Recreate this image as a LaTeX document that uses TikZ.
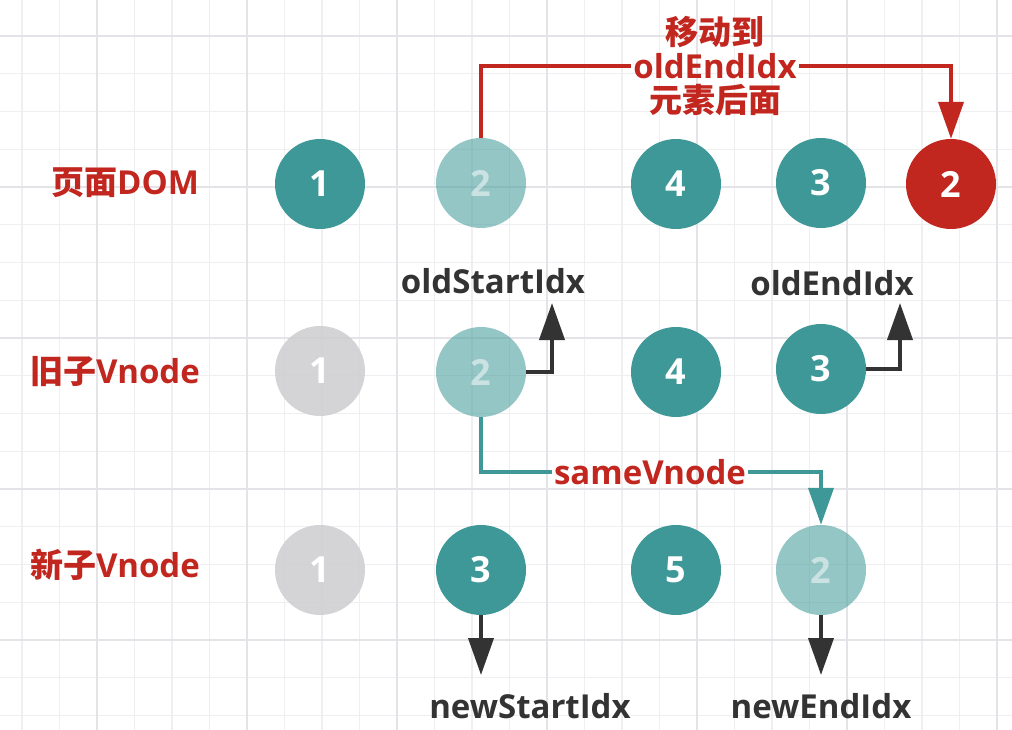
\documentclass[tikz,border=0pt]{standalone}
\usepackage{fontspec}
\setmainfont{Open Sans}
\newfontfamily\cjk{Noto Sans CJK SC}[Scale=1.0]
\usetikzlibrary{arrows.meta}
\definecolor{vteal}{HTML}{3F9898}
\definecolor{vred}{HTML}{C1261F}
\definecolor{vgray}{HTML}{CDCCCF}
\definecolor{vink}{HTML}{333333}
\definecolor{gridc}{HTML}{EFEFF2}
\definecolor{gridd}{HTML}{E4E4E8}
\tikzset{
  ball/.style={circle, minimum size=90pt, inner sep=0pt, text=white,
    font=\fontsize{36}{36}\selectfont\bfseries},
  live/.style={ball, fill=vteal},
  seen/.style={ball, fill=vteal, fill opacity=0.55, text opacity=0.5},
  gone/.style={ball, fill=vgray, fill opacity=0.85, text opacity=1},
  moved/.style={ball, fill=vred},
  rowtag/.style={text=vred, inner sep=2pt, font=\fontsize{33}{40}\selectfont\bfseries},
  idx/.style={text=vink, inner sep=2pt, font=\fontsize{33}{40}\selectfont\bfseries},
  wire/.style={line width=4pt},
  ptr/.style={draw=vink, line width=4pt, -{Triangle[width=25pt,length=37pt]}},
}
\begin{document}
\begin{tikzpicture}[x=1pt, y=-1pt]
  \useasboundingbox (0,0) rectangle (1012,730);
  \fill[white] (0,0) rectangle (1012,730);
  % grid
  \foreach \i in {0,...,26} \draw[gridc, line width=1.2pt] ({22+37.5*\i},0) -- ++(0,730);
  \foreach \j in {0,...,18} \draw[gridc, line width=1.2pt] (0,{36+37.75*\j}) -- ++(1012,0);
  \foreach \x in {97,247,...,997} \draw[gridd, line width=1.4pt] (\x,0) -- ++(0,730);
  \foreach \y in {36,187,...,640} \draw[gridd, line width=1.4pt] (0,\y) -- ++(1012,0);

  % row labels
  \node[rowtag] (domTag) at (125,183) {{\cjk 页面}DOM};
  \node[rowtag] (oldTag) at (115,372) {{\cjk 旧子}Vnode};
  \node[rowtag] (newTag) at (115,565) {{\cjk 新子}Vnode};

  % page DOM
  \node[live] (dom1) at (320,184) {1};
  \node[seen] (dom2) at (481,183) {2};
  \node[live] (dom4) at (676,184) {4};
  \node[live] (dom3) at (821,183) {3};
  \node[moved] (domR) at (951,184) {2};

  % old vnodes
  \node[gone] (old1) at (320,371) {1};
  \node[seen] (old2) at (481,372) {2};
  \node[live] (old4) at (676,372) {4};
  \node[live] (old3) at (821,369) {3};

  % new vnodes
  \node[gone] (new1) at (320,570) {1};
  \node[live] (new3) at (481,570) {3};
  \node[live] (new5) at (676,570) {5};
  \node[seen] (new2) at (821,570) {2};

  % move
  \node[rowtag, label={[rowtag, label distance=1pt]above:{\cjk 移动到}},
    label={[rowtag, label distance=1pt]below:{\cjk 元素后面}}] (moveLbl) at (715,66) {oldEndIdx};
  \draw[wire, vred] (dom2.north) |- (moveLbl.west);
  \draw[ptr, draw=vred] (moveLbl.east) -| (domR.north);

  % sameVnode
  \node[rowtag] (sameLbl) at (650,472) {sameVnode};
  \draw[wire, vteal] (old2.south) |- (sameLbl.west);
  \draw[ptr, draw=vteal] (sameLbl.east) -| (new2.north);

  % pointers
  \node[idx] (oldStartLbl) at (493,281) {oldStartIdx};
  \node[idx] (oldEndLbl) at (832,283) {oldEndIdx};
  \node[idx] (newStartLbl) at (530,706) {newStartIdx};
  \node[idx] (newEndLbl) at (821,706) {newEndIdx};
  \coordinate (oldStartTip) at (552,303);
  \coordinate (oldEndTip) at (900,303);
  \coordinate (newStartTip) at (481,675);
  \coordinate (newEndTip) at (821,675);
  \draw[ptr] (old2.east) -| (oldStartTip);
  \draw[ptr] (old3.east) -| (oldEndTip);
  \draw[ptr] (new3.south) -- (newStartTip);
  \draw[ptr] (new2.south) -- (newEndTip);
\end{tikzpicture}
\end{document}
